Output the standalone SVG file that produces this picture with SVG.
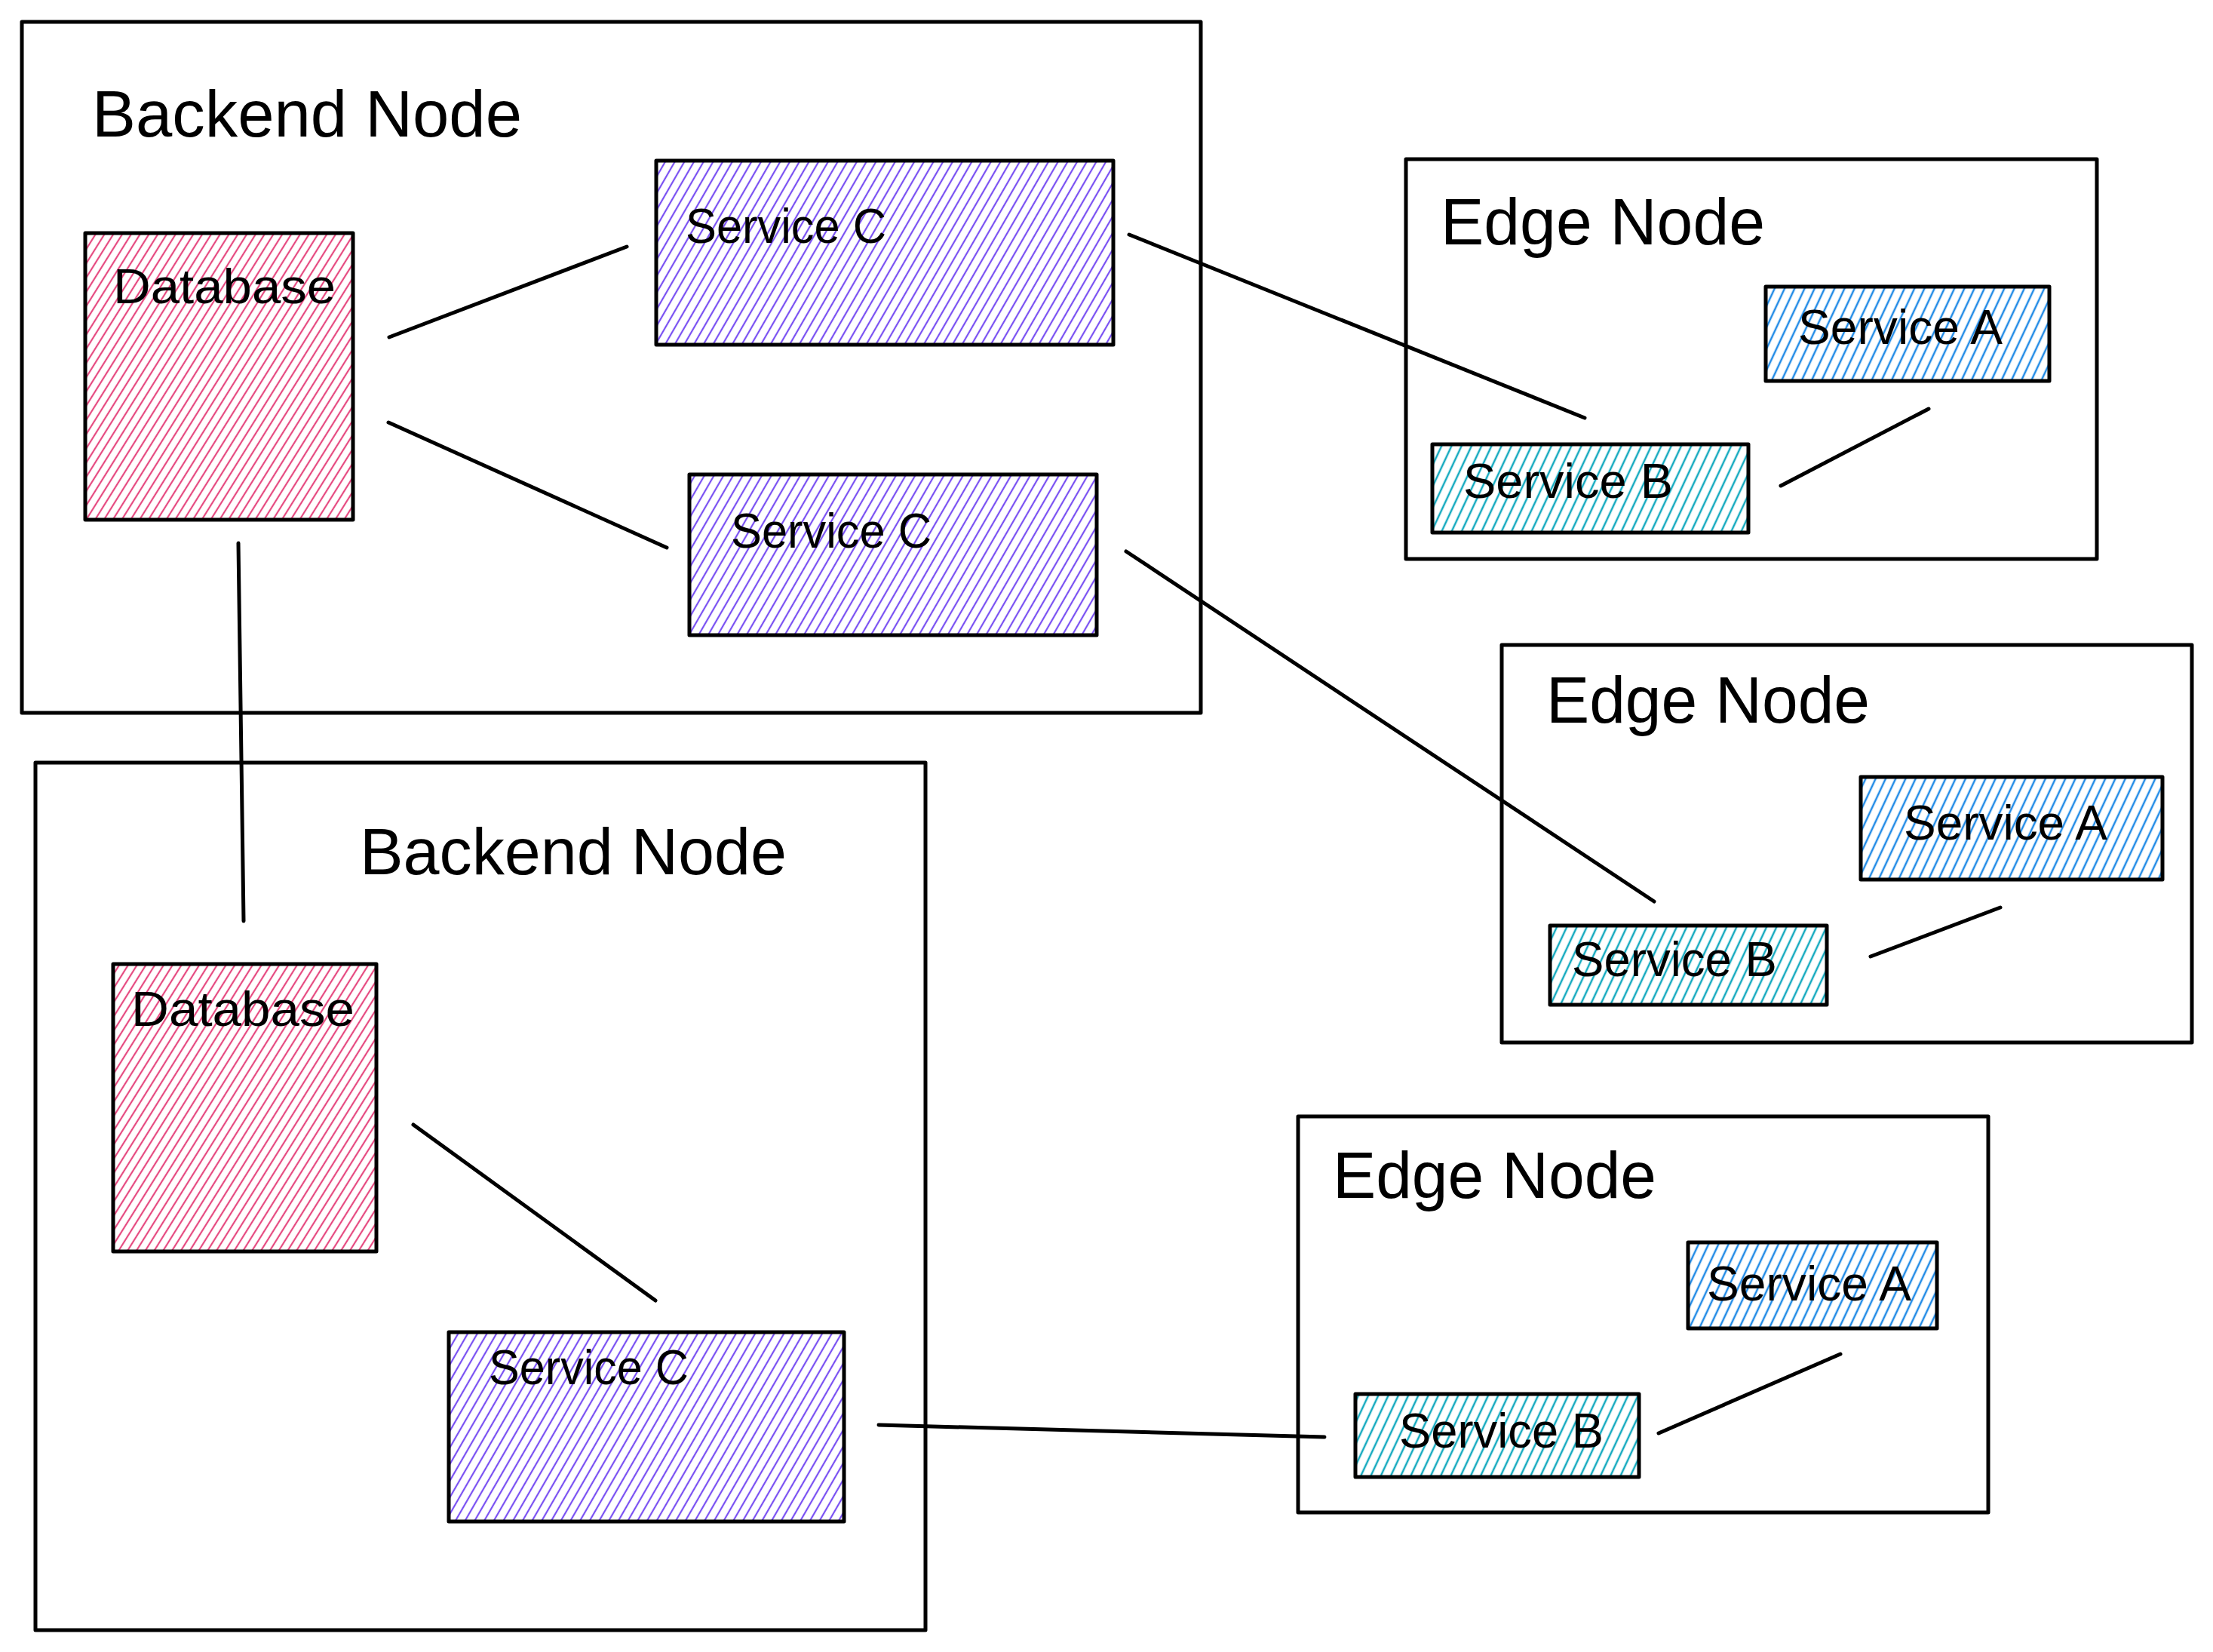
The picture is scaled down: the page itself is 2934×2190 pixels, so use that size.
<svg xmlns="http://www.w3.org/2000/svg" width="2934" height="2190" viewBox="0 0 2934 2190">
<style>
.frame{fill:#ffffff;stroke:#000;stroke-width:5;stroke-linejoin:round}
.box{stroke:#000;stroke-width:5;stroke-linejoin:round}
.title{font-family:"Liberation Sans","Noto Sans",sans-serif;font-size:88px;fill:#000}
.label{font-family:"Liberation Sans","Noto Sans",sans-serif;font-size:64px;fill:#000}
.conn line{stroke:#000;stroke-width:5;stroke-linecap:round}
.db{fill:url(#hPink)}
.svc{fill:url(#hViolet)}
.sa{fill:url(#hBlue)}
.sb{fill:url(#hCyan)}
</style>
<defs>
<pattern id="hPink" width="10" height="10" patternUnits="userSpaceOnUse" patternTransform="rotate(32)"><rect width="10" height="10" fill="#fff"/><line x1="2" y1="0" x2="2" y2="10" stroke="#e64980" stroke-width="2.2"/></pattern>
<pattern id="hViolet" width="11" height="11" patternUnits="userSpaceOnUse" patternTransform="rotate(30)"><rect width="11" height="11" fill="#fff"/><line x1="2" y1="0" x2="2" y2="11" stroke="#7950f2" stroke-width="2.2"/></pattern>
<pattern id="hBlue" width="12" height="12" patternUnits="userSpaceOnUse" patternTransform="rotate(25)"><rect width="12" height="12" fill="#fff"/><line x1="2" y1="0" x2="2" y2="12" stroke="#228be6" stroke-width="2.5"/></pattern>
<pattern id="hCyan" width="12" height="12" patternUnits="userSpaceOnUse" patternTransform="rotate(25)"><rect width="12" height="12" fill="#fff"/><line x1="2" y1="0" x2="2" y2="12" stroke="#15aabf" stroke-width="2.5"/></pattern>
</defs>
<rect width="2934" height="2190" fill="#fff"/>

<g id="backend-node-1">
<rect class="frame" x="29" y="29" width="1563" height="916"/>
<text class="title" x="122" y="181" textLength="570" lengthAdjust="spacingAndGlyphs">Backend Node</text>
</g>
<g id="backend-node-2">
<rect class="frame" x="47" y="1011" width="1180" height="1150"/>
<text class="title" x="477" y="1159" textLength="566" lengthAdjust="spacingAndGlyphs">Backend Node</text>
</g>
<g id="edge-node-1">
<rect class="frame" x="1864" y="211" width="916" height="530"/>
<text class="title" x="1910" y="324" textLength="430" lengthAdjust="spacingAndGlyphs">Edge Node</text>
</g>
<g id="edge-node-2">
<rect class="frame" x="1991" y="855" width="915" height="527"/>
<text class="title" x="2050" y="958" textLength="429" lengthAdjust="spacingAndGlyphs">Edge Node</text>
</g>
<g id="edge-node-3">
<rect class="frame" x="1721" y="1480" width="915" height="525"/>
<text class="title" x="1767" y="1588" textLength="429" lengthAdjust="spacingAndGlyphs">Edge Node</text>
</g>

<g id="database-1">
<rect class="box db" x="113" y="309" width="355" height="380"/>
<text class="label" x="150" y="402" textLength="295" lengthAdjust="spacingAndGlyphs">Database</text>
</g>
<g id="service-c-1">
<rect class="box svc" x="870" y="213" width="606" height="244"/>
<text class="label" x="909" y="322" textLength="266" lengthAdjust="spacingAndGlyphs">Service C</text>
</g>
<g id="service-c-2">
<rect class="box svc" x="914" y="629" width="540" height="213"/>
<text class="label" x="969" y="726" textLength="266" lengthAdjust="spacingAndGlyphs">Service C</text>
</g>
<g id="database-2">
<rect class="box db" x="150" y="1278" width="349" height="381"/>
<text class="label" x="174" y="1360" textLength="296" lengthAdjust="spacingAndGlyphs">Database</text>
</g>
<g id="service-c-3">
<rect class="box svc" x="595" y="1766" width="524" height="251"/>
<text class="label" x="648" y="1835" textLength="265" lengthAdjust="spacingAndGlyphs">Service C</text>
</g>
<g id="edge1-service-a">
<rect class="box sa" x="2341" y="380" width="376" height="125"/>
<text class="label" x="2384" y="456" textLength="271" lengthAdjust="spacingAndGlyphs">Service A</text>
</g>
<g id="edge1-service-b">
<rect class="box sb" x="1899" y="589" width="419" height="117"/>
<text class="label" x="1940" y="660" textLength="278" lengthAdjust="spacingAndGlyphs">Service B</text>
</g>
<g id="edge2-service-a">
<rect class="box sa" x="2467" y="1030" width="400" height="136"/>
<text class="label" x="2524" y="1113" textLength="270" lengthAdjust="spacingAndGlyphs">Service A</text>
</g>
<g id="edge2-service-b">
<rect class="box sb" x="2055" y="1227" width="367" height="105"/>
<text class="label" x="2084" y="1294" textLength="272" lengthAdjust="spacingAndGlyphs">Service B</text>
</g>
<g id="edge3-service-a">
<rect class="box sa" x="2238" y="1647" width="330" height="114"/>
<text class="label" x="2263" y="1724" textLength="271" lengthAdjust="spacingAndGlyphs">Service A</text>
</g>
<g id="edge3-service-b">
<rect class="box sb" x="1797" y="1848" width="376" height="110"/>
<text class="label" x="1855" y="1919" textLength="271" lengthAdjust="spacingAndGlyphs">Service B</text>
</g>

<g id="connectors" class="conn">
<line x1="516" y1="447" x2="831" y2="327"/>
<line x1="515" y1="560" x2="884" y2="726"/>
<line x1="316" y1="720" x2="323" y2="1221"/>
<line x1="1497" y1="311" x2="2101" y2="554"/>
<line x1="1493" y1="731" x2="2193" y2="1195"/>
<line x1="2361" y1="644" x2="2557" y2="542"/>
<line x1="2480" y1="1268" x2="2652" y2="1203"/>
<line x1="548" y1="1491" x2="869" y2="1724"/>
<line x1="1165" y1="1889" x2="1756" y2="1905"/>
<line x1="2199" y1="1900" x2="2440" y2="1795"/>
</g>
</svg>
